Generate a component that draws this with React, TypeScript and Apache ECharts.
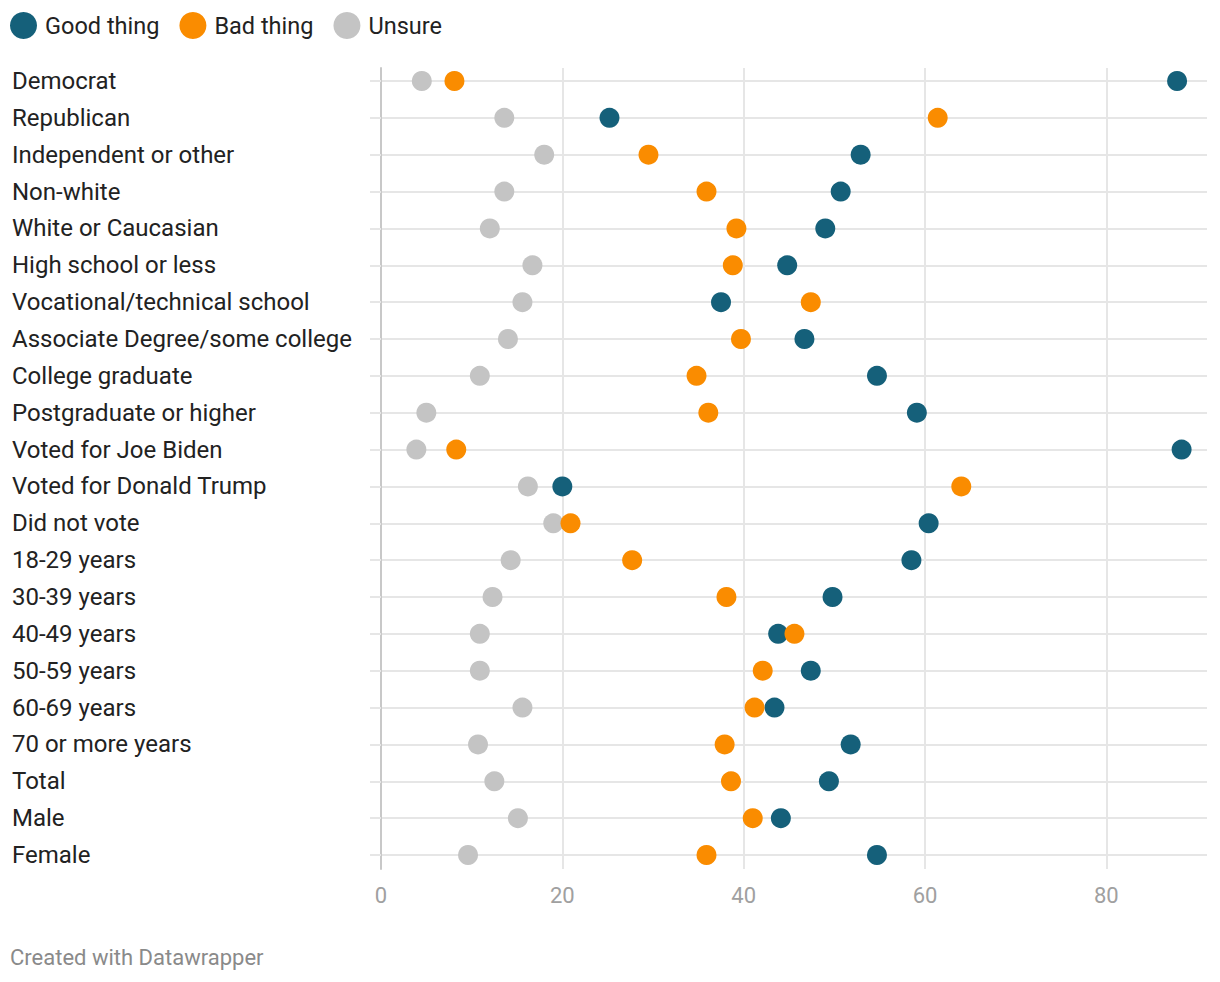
import React, { useEffect, useRef } from "react";
import * as echarts from "echarts";

const categories = [
  "Democrat",
  "Republican",
  "Independent or other",
  "Non-white",
  "White or Caucasian",
  "High school or less",
  "Vocational/technical school",
  "Associate Degree/some college",
  "College graduate",
  "Postgraduate or higher",
  "Voted for Joe Biden",
  "Voted for Donald Trump",
  "Did not vote",
  "18-29 years",
  "30-39 years",
  "40-49 years",
  "50-59 years",
  "60-69 years",
  "70 or more years",
  "Total",
  "Male",
  "Female",
];

const goodThing = [87.8, 25.2, 52.9, 50.7, 49.0, 44.8, 37.5, 46.7, 54.7, 59.1, 88.3, 20.0, 60.4, 58.5, 49.8, 43.8, 47.4, 43.4, 51.8, 49.4, 44.1, 54.7];
const badThing = [8.1, 61.4, 29.5, 35.9, 39.2, 38.8, 47.4, 39.7, 34.8, 36.1, 8.3, 64.0, 20.9, 27.7, 38.1, 45.6, 42.1, 41.2, 37.9, 38.6, 41.0, 35.9];
const unsure = [4.5, 13.6, 18.0, 13.6, 12.0, 16.7, 15.6, 14.0, 10.9, 5.0, 3.9, 16.2, 19.0, 14.3, 12.3, 10.9, 10.9, 15.6, 10.7, 12.5, 15.1, 9.6];

const xTicks = [0, 20, 40, 60, 80];

const FONT = "Roboto, 'Noto Sans', sans-serif";

export default function App() {
  const ref = useRef<HTMLDivElement>(null);
  useEffect(() => {
    document.body.style.margin = "0";
    if (!ref.current) return;
    const chart = echarts.init(ref.current, null, { renderer: "svg" });
    const toData = (arr: number[]) => arr.map((v, i) => [v, categories[i]]);
    const xMax = 91.1;
    chart.setOption({
      animation: false,
      backgroundColor: "#ffffff",
      textStyle: { fontFamily: FONT },
      legend: {
        data: ["Good thing", "Bad thing", "Unsure"],
        left: 10,
        top: 12,
        padding: 0,
        icon: "circle",
        itemWidth: 27,
        itemHeight: 27,
        itemGap: 20,
        textStyle: { fontSize: 23.5, color: "#222222", fontFamily: FONT, padding: [0, 0, 0, 3] },
      },
      grid: [
        { left: 381, right: 13, top: 81, height: 774 },
        { left: 381, right: 13, top: 68, height: 801 },
      ],
      xAxis: [
        { type: "value", gridIndex: 0, min: 0, max: xMax, show: false },
        {
          type: "value",
          gridIndex: 1,
          min: 0,
          max: xMax,
          interval: 20,
          axisLine: { show: false },
          axisTick: { show: false },
          splitLine: { show: true, showMaxLine: false, lineStyle: { color: "#e6e6e6", width: 2 } },
          axisLabel: {
            color: "#a0a0a0",
            fontSize: 22,
            fontFamily: FONT,
            margin: 15,
            showMaxLabel: false,
            formatter: (v: number) => (xTicks.includes(v) ? String(v) : ""),
          },
        },
      ],
      yAxis: [
        {
          type: "category",
          gridIndex: 0,
          data: categories,
          inverse: true,
          boundaryGap: false,
          axisLine: { show: false },
          axisTick: { show: true, length: 11, lineStyle: { color: "#e6e6e6", width: 2 } },
          splitLine: { show: true, lineStyle: { color: "#e6e6e6", width: 2 } },
          axisLabel: {
            align: "left",
            margin: 369,
            color: "#222222",
            fontSize: 24,
            fontFamily: FONT,
            interval: 0,
          },
        },
        {
          type: "value",
          gridIndex: 1,
          min: 0,
          max: 1,
          axisLine: { show: true, lineStyle: { color: "#c8c8c8", width: 2 } },
          axisTick: { show: false },
          axisLabel: { show: false },
          splitLine: { show: false },
        },
      ],
      series: [
        {
          name: "Unsure",
          type: "scatter",
          xAxisIndex: 0,
          yAxisIndex: 0,
          symbolSize: 20,
          itemStyle: { color: "#c4c4c4", opacity: 1 },
          data: toData(unsure),
          z: 3,
        },
        {
          name: "Good thing",
          type: "scatter",
          xAxisIndex: 0,
          yAxisIndex: 0,
          symbolSize: 20,
          itemStyle: { color: "#15607a", opacity: 1 },
          data: toData(goodThing),
          z: 4,
        },
        {
          name: "Bad thing",
          type: "scatter",
          xAxisIndex: 0,
          yAxisIndex: 0,
          symbolSize: 20,
          itemStyle: { color: "#fa8c00", opacity: 1 },
          data: toData(badThing),
          z: 5,
        },
      ],
      graphic: [
        {
          type: "text",
          left: 10,
          top: 946,
          style: {
            text: "Created with Datawrapper",
            fill: "#8a8a8a",
            fontSize: 22,
            fontFamily: FONT,
          },
        },
      ],
    });
    return () => chart.dispose();
  }, []);
  return <div ref={ref} style={{ width: 1220, height: 982 }} />;
}
